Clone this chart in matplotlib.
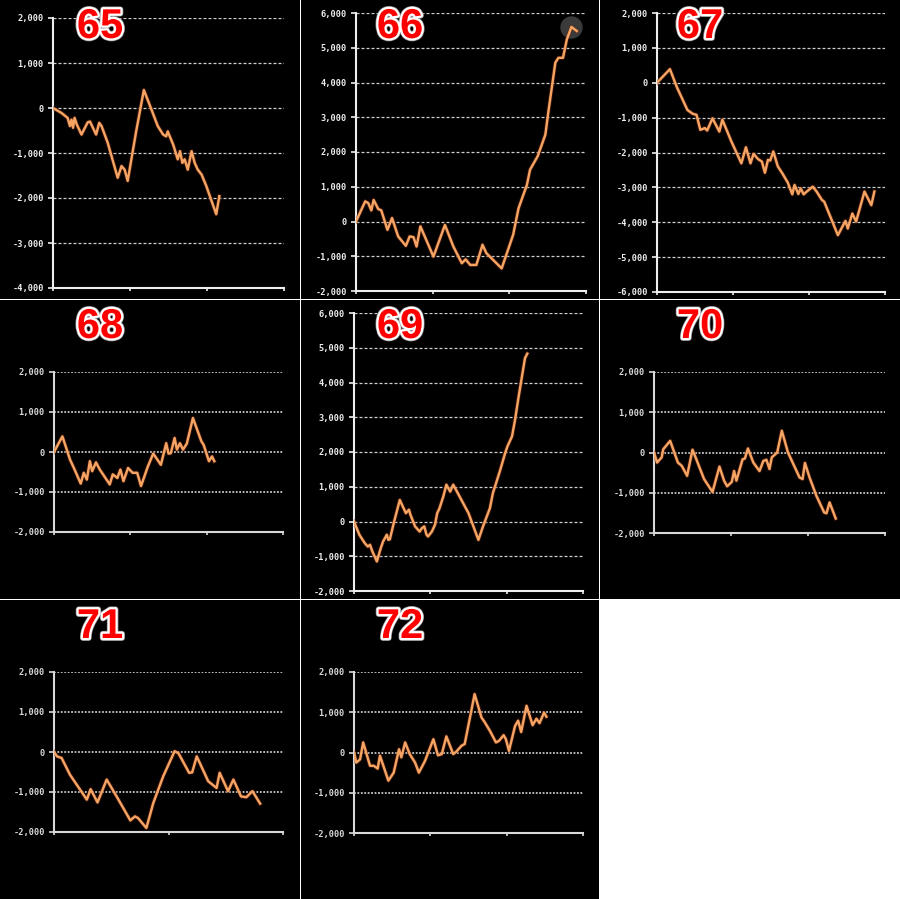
import matplotlib
matplotlib.use("Agg")
import matplotlib.pyplot as plt
import matplotlib.patheffects as pe
from matplotlib.patches import Rectangle
from matplotlib.ticker import FuncFormatter

# ---------------- data (game count, balance) ----------------
panel_ids = [65, 66, 67, 68, 69, 70, 71, 72]

games_65 = [0, 11, 19, 22, 24, 26, 28, 31, 37, 45, 48, 56, 60, 63, 71, 84, 89, 93, 97, 108,
            118, 128, 136, 143, 147, 149, 156, 162, 165, 168, 171, 175, 180, 184, 188, 193,
            199, 212, 216]
diff_65 = [0, -110, -220, -400, -260, -440, -220, -370, -590, -320, -300, -590, -330, -400,
           -770, -1550, -1290, -1370, -1620, -520, 400, -40, -400, -590, -630, -520, -810,
           -1140, -960, -1220, -1140, -1370, -960, -1220, -1370, -1480, -1730, -2360, -1960]

games_66 = [0, 12, 16, 20, 23, 29, 33, 41, 47, 55, 65, 70, 75, 79, 84, 101, 116, 127, 138,
            143, 149, 157, 165, 170, 190, 205, 212, 223, 227, 237, 247, 251, 260, 264, 270,
            275, 281, 288]
diff_66 = [0, 580, 530, 320, 620, 360, 320, -240, 100, -430, -700, -430, -450, -720, -140,
           -1010, -100, -720, -1200, -1090, -1250, -1250, -670, -910, -1350, -380, 380, 1060,
           1490, 1880, 2500, 3170, 4570, 4710, 4710, 5240, 5600, 5480]

games_67 = [0, 17, 26, 40, 47, 52, 57, 63, 66, 73, 82, 86, 98, 111, 117, 123, 127, 133, 138,
            142, 146, 149, 153, 159, 165, 172, 178, 181, 186, 189, 193, 197, 205, 210, 217,
            220, 238, 248, 251, 257, 262, 273, 282, 286]
diff_67 = [0, 390, -120, -780, -890, -920, -1350, -1300, -1370, -1020, -1400, -1060, -1690,
           -2310, -1850, -2310, -2040, -2190, -2260, -2580, -2210, -2230, -1970, -2400, -2600,
           -2860, -3200, -2930, -3190, -3030, -3200, -3120, -2980, -3120, -3360, -3410, -4370,
           -3960, -4180, -3750, -3980, -3120, -3510, -3120]

games_68 = [0, 11, 21, 27, 35, 39, 43, 47, 50, 55, 60, 73, 77, 83, 87, 91, 97, 103, 109, 114,
            123, 130, 140, 147, 150, 153, 158, 161, 165, 169, 174, 182, 193, 196, 203, 207, 210]
diff_68 = [0, 390, -190, -440, -790, -520, -690, -230, -480, -260, -440, -810, -560, -650,
           -440, -730, -400, -520, -520, -850, -360, -40, -320, 220, -40, -30, 350, 60, 220,
           60, 210, 850, 270, 180, -230, -110, -230]

games_69 = [0, 7, 14, 18, 21, 24, 30, 35, 38, 43, 45, 47, 52, 60, 65, 68, 72, 74, 80, 86, 89,
            92, 95, 97, 102, 106, 109, 112, 117, 121, 126, 130, 150, 163, 169, 178, 182, 191,
            198, 201, 207, 211, 215, 220, 224, 227]
diff_69 = [0, -380, -620, -720, -670, -860, -1150, -770, -580, -380, -530, -510, -50, 620, 380,
           240, 340, 190, -140, -290, -190, -140, -380, -430, -290, -100, 240, 380, 720, 1060,
           860, 1060, 240, -530, -140, 380, 820, 1440, 1970, 2160, 2450, 2930, 3500, 4170,
           4700, 4830]

games_70 = [0, 4, 10, 12, 21, 31, 36, 43, 50, 55, 65, 76, 85, 91, 95, 101, 104, 107, 115, 118,
            122, 129, 137, 142, 146, 150, 153, 160, 166, 174, 189, 193, 196, 202, 211, 221,
            224, 228, 236]
diff_70 = [0, -250, -120, 80, 290, -250, -330, -580, 70, -170, -660, -980, -350, -700, -840,
           -730, -460, -700, -170, -150, 100, -250, -460, -210, -180, -410, -120, 0, 540, 0,
           -620, -660, -260, -620, -1080, -1490, -1510, -1240, -1640]

games_71 = [0, 4, 10, 21, 43, 48, 57, 69, 82, 100, 106, 110, 121, 130, 143, 158, 163, 177,
            181, 187, 202, 213, 217, 228, 235, 245, 252, 260, 270]
diff_71 = [0, -110, -150, -570, -1190, -930, -1260, -690, -1110, -1710, -1610, -1650, -1900,
           -1280, -610, 20, -30, -520, -510, -110, -730, -900, -520, -980, -690, -1110, -1130,
           -980, -1290]

games_72 = [0, 3, 8, 12, 21, 26, 31, 34, 45, 52, 59, 62, 67, 73, 80, 85, 93, 104, 110, 115,
            121, 130, 134, 141, 145, 158, 167, 171, 178, 186, 190, 196, 199, 203, 211, 215,
            219, 226, 234, 239, 243, 249, 252]
diff_72 = [0, -250, -170, 250, -330, -330, -400, -80, -700, -500, 80, -120, 250, -40, -250,
           -500, -210, 330, -70, -40, 400, -40, 20, 170, 210, 1450, 870, 760, 540, 250, 290,
           430, 330, 40, 660, 790, 510, 1160, 680, 840, 730, 990, 890]

series = {
    65: (games_65, diff_65), 66: (games_66, diff_66), 67: (games_67, diff_67),
    68: (games_68, diff_68), 69: (games_69, diff_69), 70: (games_70, diff_70),
    71: (games_71, diff_71), 72: (games_72, diff_72),
}
y_ranges = {65: (-4000, 2000), 66: (-2000, 6000), 67: (-6000, 2000), 68: (-2000, 2000),
            69: (-2000, 6000), 70: (-2000, 2000), 71: (-2000, 2000), 72: (-2000, 2000)}
x_ticks = {71: [0, 150, 300]}
default_x_ticks = [0, 100, 200, 300]

# ---------------- layout ----------------
W, H = 900, 899
fig = plt.figure(figsize=(9, 8.99), dpi=100, facecolor="white")

col_bg = [(0, 300), (301, 599), (600, 900)]
row_bg = [(0, 299), (300, 599), (600, 899)]
# plot-area box inside each 300px cell: left, top, right, bottom
boxes = {65: (53, 18, 284, 288), 66: (56, 13, 286, 291), 67: (57, 13, 285, 292),
         68: (54, 72, 283, 232), 69: (54, 13, 283, 291), 70: (54, 72, 285, 233),
         71: (54, 72, 283, 232), 72: (54, 72, 283, 233)}
big = {65, 66, 67, 69}


def rect(x0, y0, x1, y1):
    return [x0 / W, 1 - y1 / H, (x1 - x0) / W, (y1 - y0) / H]


LINE = "#F6A463"
fmt = FuncFormatter(lambda v, p: f"{int(v):,}")

for i, pid in enumerate(panel_ids):
    r, c = divmod(i, 3)
    bx0, bx1 = col_bg[c]
    by0, by1 = row_bg[r]
    fig.add_artist(Rectangle((bx0 / W, 1 - by1 / H), (bx1 - bx0) / W, (by1 - by0) / H,
                             transform=fig.transFigure, facecolor="black",
                             edgecolor="none", zorder=0))
    ox, oy = c * 300, r * 300
    l, t, rr, b = boxes[pid]
    ax = fig.add_axes(rect(ox + l, oy + t, ox + rr, oy + b))
    ax.set_facecolor("black")
    ax.set_zorder(2)
    gx, gy = series[pid]
    if pid == 66:
        k = gy.index(max(gy))
        ax.scatter([gx[k]], [gy[k]], s=260, color="#3a3a3a", zorder=2, linewidths=0)
    ax.plot(gx, gy, color="#7a2a10", lw=3.0, alpha=0.45, zorder=3, solid_joinstyle="round")
    ax.plot(gx, gy, color=LINE, lw=1.75, zorder=4, solid_joinstyle="round")
    ax.set_xlim(0, 300)
    ax.set_ylim(*y_ranges[pid])
    lo, hi = y_ranges[pid]
    ax.set_yticks(list(range(lo, hi + 1, 1000)))
    ax.yaxis.set_major_formatter(fmt)
    ax.set_xticks(x_ticks.get(pid, default_x_ticks))
    ax.set_xticklabels([])
    for s in ("top", "right"):
        ax.spines[s].set_visible(False)
    scol = "#eeeeee" if pid in big else "#d9d9d9"
    for s in ("left", "bottom"):
        ax.spines[s].set_color(scol)
        ax.spines[s].set_linewidth(1.5)
    ax.tick_params(axis="y", length=3.6, width=1.2, color=scol, pad=3,
                   labelsize=6.2, labelcolor=scol)
    ax.tick_params(axis="x", length=2.5, width=1.2, color=scol, direction="out")
    for lab in ax.get_yticklabels():
        lab.set_fontfamily("DejaVu Sans Mono")
        lab.set_fontweight("bold")
    if pid in big:
        ax.yaxis.grid(True, color="#cfcfcf", lw=0.9, linestyle=(0, (2.4, 1.6)))
    else:
        ax.yaxis.grid(True, color="#c8c8c8", lw=1.3, linestyle=(0, (1.0, 0.9)))
    ax.set_axisbelow(True)

    fig.text((ox + 100) / W, 1 - (oy + 38) / H, str(pid), ha="center", va="baseline",
             fontsize=30, fontweight="bold", family="Liberation Sans", color="#FF0000",
             zorder=10,
             path_effects=[pe.Stroke(linewidth=4.2, foreground="#888888"),
                           pe.Stroke(linewidth=3.2, foreground="white"), pe.Normal()])

fig.savefig("out.png", dpi=100, facecolor="white")
